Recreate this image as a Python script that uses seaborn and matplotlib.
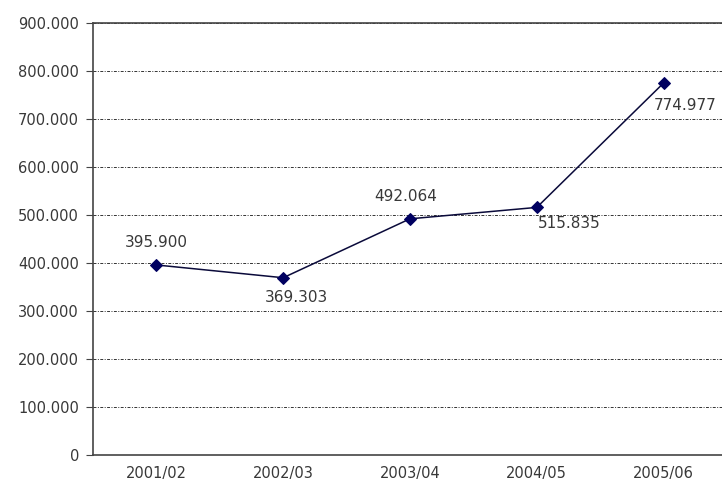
import numpy as np
import pandas as pd
import matplotlib
matplotlib.use('Agg')
import matplotlib.pyplot as plt
import matplotlib.ticker as mticker
import seaborn as sns

seasons = ['2001/02', '2002/03', '2003/04', '2004/05', '2005/06']
values = [395900, 369303, 492064, 515835, 774977]
# label offsets in pixels (dx, dy)
label_offsets = [(0, 22), (13, -20), (-4, 22), (32, -16), (22, -22)]

df = pd.DataFrame({'pos': np.arange(len(seasons)), 'value': values})

sns.set_style('white')
plt.rcParams['font.family'] = ['DejaVu Sans']

def fmt_dot(v, pos=None):
    return f'{int(round(v)):,}'.replace(',', '.')

fig = plt.figure(figsize=(7.22, 4.90), dpi=100)
ax = fig.add_axes([93 / 722, 35 / 490, 634 / 722, 432 / 490])

sns.lineplot(data=df, x='pos', y='value', ax=ax, color='#0a0a3a', lw=1.1,
             marker='D', markersize=6.5, markerfacecolor='#000060',
             markeredgecolor='#000060', zorder=3)

ax.set_xlim(-0.5, len(seasons) - 0.5)
ax.set_ylim(0, 900000)
ax.yaxis.set_major_locator(mticker.MultipleLocator(100000))
ax.yaxis.set_major_formatter(mticker.FuncFormatter(fmt_dot))
ax.grid(axis='y', color='#333333', lw=0.7, linestyle=(0, (3, 1.5, 1, 1.5)))
ax.set_axisbelow(True)

ax.set_xticks(np.arange(len(seasons)))
ax.set_xticklabels(seasons)
ax.set_xticks(np.arange(-0.5, len(seasons)), minor=True)
ax.tick_params(axis='x', which='major', length=0, pad=8, labelsize=10.5, labelcolor='#383838')
ax.tick_params(axis='x', which='minor', length=5, color='#444444', direction='out')
ax.tick_params(axis='y', length=5, color='#444444', direction='out', pad=5,
               labelsize=10.5, labelcolor='#383838', left=True)

for s in ['left', 'bottom', 'top']:
    ax.spines[s].set_color('#444444')
    ax.spines[s].set_linewidth(1.2)
ax.spines['right'].set_visible(False)
ax.set_xlabel('')
ax.set_ylabel('')

for i, v in enumerate(values):
    dx, dy = label_offsets[i]
    ax.annotate(fmt_dot(v), (i, v), xytext=(dx, dy), textcoords='offset pixels',
                ha='center', va='center', fontsize=11, color='#383838')

fig.savefig('out.png', dpi=100)
